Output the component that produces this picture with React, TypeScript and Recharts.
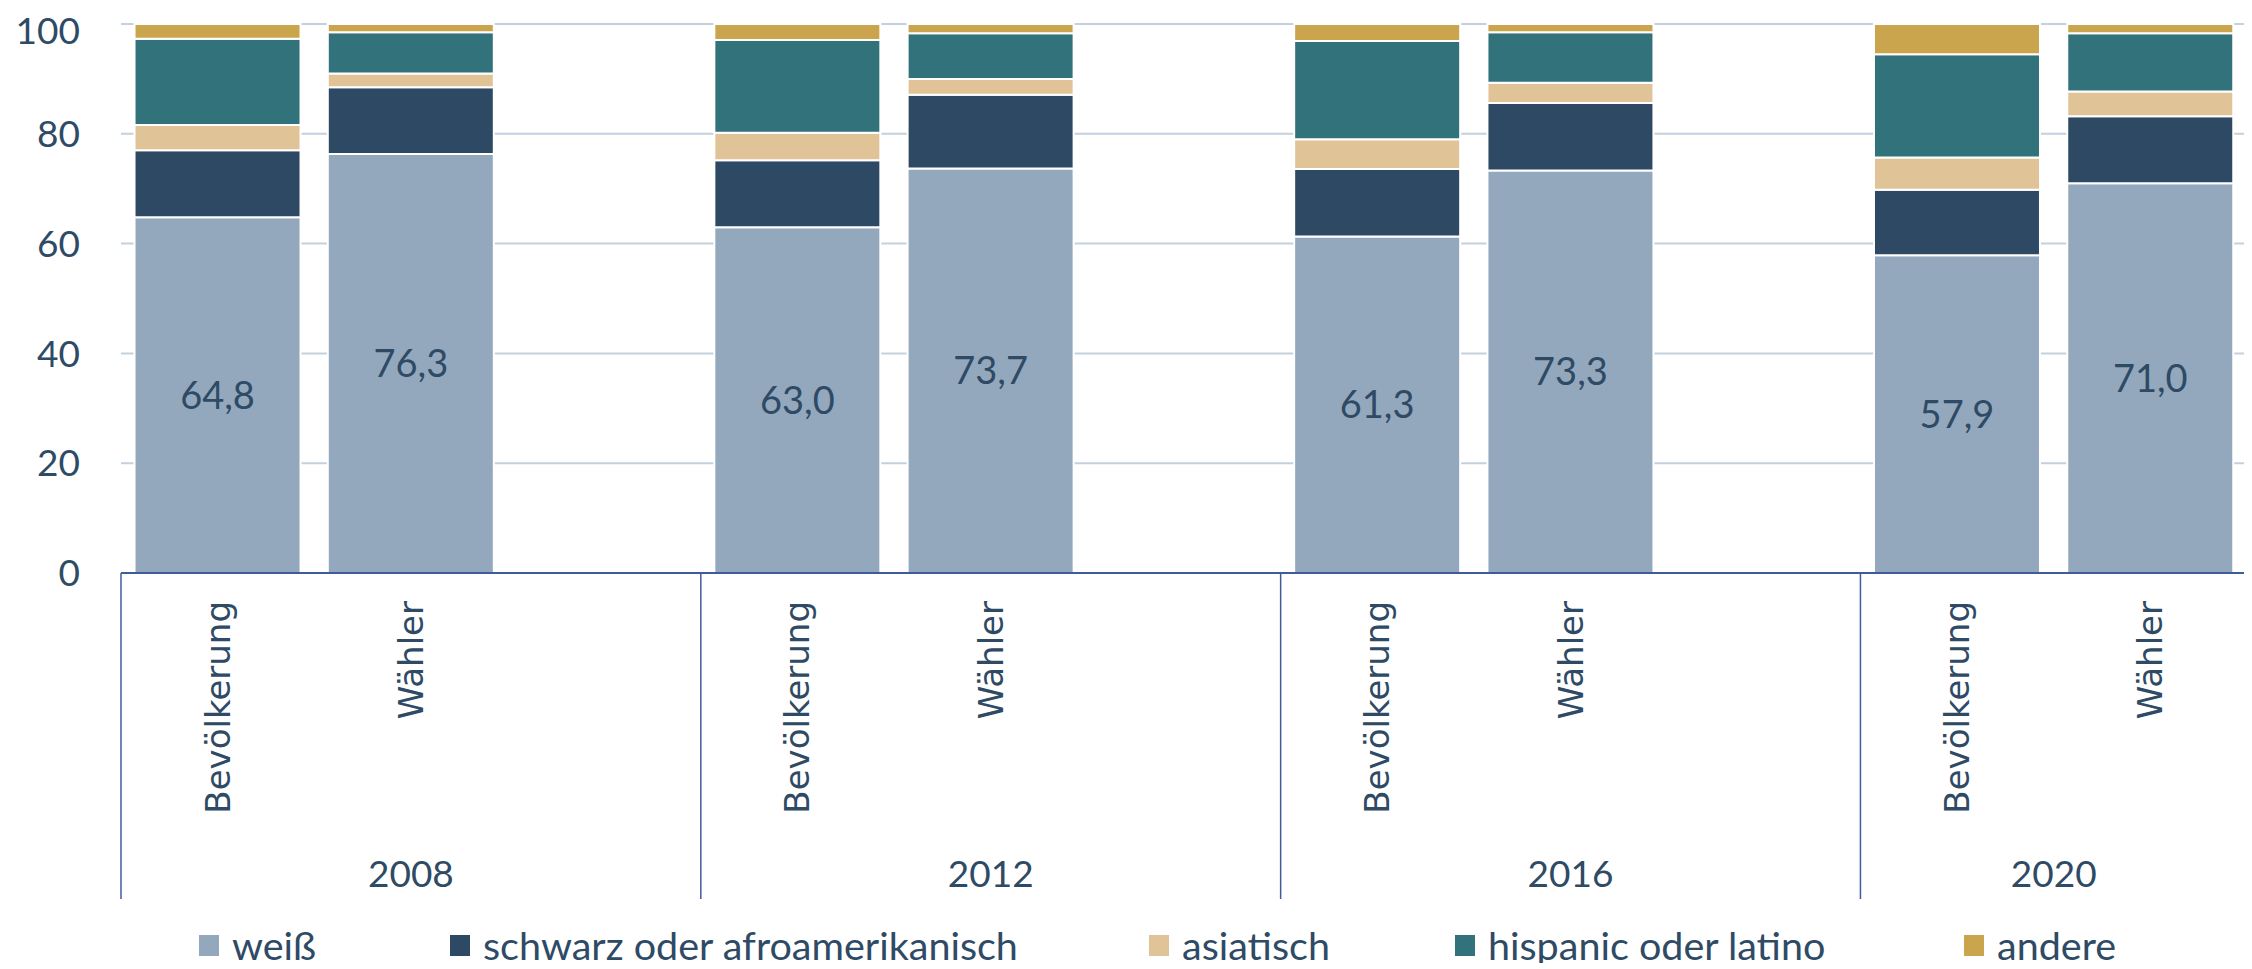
import { Bar, BarChart, CartesianGrid, LabelList, Legend, XAxis, YAxis } from "recharts";

// population vs. voters by ethnicity, share in %
const years = ["2008", "2012", "2016", "2020"];
const groups = ["Bevölkerung", "Wähler"];
// order per year: Bevölkerung, Wähler
const weiss = [64.8, 76.3, 63.0, 73.7, 61.3, 73.3, 57.9, 71.0];
const schwarz = [12.2, 12.2, 12.2, 13.4, 12.3, 12.3, 11.9, 12.2];
const asiatisch = [4.6, 2.5, 5.0, 2.9, 5.4, 3.7, 5.9, 4.5];
const hispanic = [15.7, 7.5, 16.9, 8.3, 17.9, 9.2, 18.8, 10.6];
const andere = [2.7, 1.5, 2.9, 1.7, 3.1, 1.5, 5.5, 1.7];
const yTicks = [0, 20, 40, 60, 80, 100];

const SERIES = [
  { key: "weiss", name: "weiß", color: "#93A8BC" },
  { key: "schwarz", name: "schwarz oder afroamerikanisch", color: "#2E4963" },
  { key: "asiatisch", name: "asiatisch", color: "#E0C498" },
  { key: "hispanic", name: "hispanic oder latino", color: "#32727B" },
  { key: "andere", name: "andere", color: "#CBA44E" },
];

const TEXT = "#2E4A65";
const BOX = "#3F5C9A";
const FONT = "Lato, 'Open Sans', sans-serif";

type Row = { key: string; year: string; label: string; [k: string]: number | string | undefined };

// one empty slot after each year group except the last
const data: Row[] = [];
years.forEach((year, yi) => {
  groups.forEach((label, gi) => {
    const i = yi * 2 + gi;
    data.push({
      key: `${year}-${gi}`,
      year,
      label,
      weiss: weiss[i],
      schwarz: schwarz[i],
      asiatisch: asiatisch[i],
      hispanic: hispanic[i],
      andere: andere[i],
    });
  });
  if (yi < years.length - 1) data.push({ key: `${year}-gap`, year, label: "" });
});

const fmt = (v: unknown) => (typeof v === "number" ? v.toFixed(1).replace(".", ",") : "");

function CategoryTick(props: any) {
  const { x, y, index, width, visibleTicksCount } = props;
  const row = data[index];
  if (!row) return null;
  const slot = (typeof width === "number" ? width : 2126) / (visibleTicksCount || data.length);
  const first = index === 0 || data[index - 1].year !== row.year;
  const last = index === data.length - 1;
  const size = data.filter((d) => d.year === row.year).length;
  return (
    <g>
      {row.label && (
        <text
          transform={`translate(${x},${y + 28}) rotate(-90)`}
          textAnchor="end"
          dominantBaseline="central"
          fontFamily="'DejaVu Sans', Verdana, sans-serif"
          fontSize={34}
          fill={TEXT}
        >
          {row.label}
        </text>
      )}
      {first && (
        <>
          <line x1={x - slot / 2} x2={x - slot / 2} y1={y} y2={y + 326} stroke={BOX} strokeWidth={1.5} />
          <text
            x={x + ((size - 1) * slot) / 2}
            y={y + 299}
            textAnchor="middle"
            dominantBaseline="central"
            fontFamily={FONT}
            fontSize={37}
            fill={TEXT}
          >
            {row.year}
          </text>
        </>
      )}
      {last && <line x1={x + slot / 2} x2={x + slot / 2} y1={y} y2={y + 326} stroke={BOX} strokeWidth={1.5} />}
    </g>
  );
}

// legend item widths follow the spacing of the original
const legendWidths = [251, 699, 306, 509, 200];

function LegendRow() {
  return (
    <div style={{ display: "flex", height: 64, alignItems: "flex-end", paddingLeft: 191 }}>
      {SERIES.map((s, i) => (
        <div
          key={s.key}
          style={{ width: legendWidths[i], height: 34, marginBottom: 1, display: "flex", alignItems: "center" }}
        >
          <span style={{ width: 20, height: 21, background: s.color, marginRight: 13, flexShrink: 0 }} />
          <span style={{ fontFamily: FONT, fontSize: 39.5, color: TEXT, lineHeight: 1, whiteSpace: "nowrap" }}>
            {s.name}
          </span>
        </div>
      ))}
    </div>
  );
}

export default function App() {
  return (
    <div style={{ fontFamily: FONT }}>
      <BarChart
        width={2244}
        height={955}
        data={data}
        margin={{ top: 16, right: 5, bottom: 0, left: 0 }}
        barCategoryGap="7%"
      >
        <CartesianGrid vertical={false} stroke="#C3D1DE" strokeWidth={2} />
        <XAxis
          dataKey="key"
          interval={0}
          height={326}
          tickLine={false}
          tickSize={0}
          tickMargin={0}
          axisLine={{ stroke: BOX, strokeWidth: 2 }}
          tick={<CategoryTick />}
        />
        <YAxis
          domain={[0, 100]}
          ticks={yTicks}
          width={113}
          axisLine={false}
          tickLine={false}
          tickSize={0}
          tickMargin={41}
          tick={{ fontSize: 37, fill: TEXT, fontFamily: FONT }}
        />
        <Legend verticalAlign="bottom" align="left" content={() => <LegendRow />} />
        {SERIES.map((s) => (
          <Bar
            key={s.key}
            dataKey={s.key}
            name={s.name}
            stackId="a"
            fill={s.color}
            stroke="#fff"
            strokeWidth={2}
            isAnimationActive={false}
          >
            {s.key === "weiss" && (
              <LabelList
                dataKey="weiss"
                position="center"
                formatter={fmt}
                style={{ fontSize: 38, fill: TEXT, fontFamily: FONT }}
              />
            )}
          </Bar>
        ))}
      </BarChart>
    </div>
  );
}
